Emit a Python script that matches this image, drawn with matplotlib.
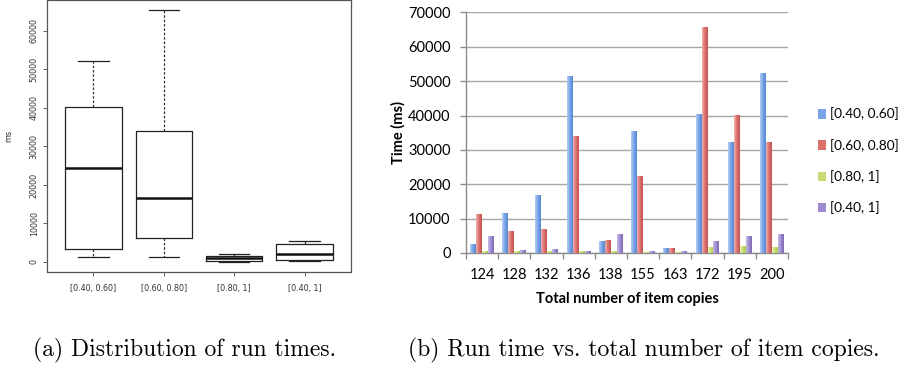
import numpy as np
import matplotlib
matplotlib.use('Agg')
import matplotlib.pyplot as plt
from matplotlib.colors import LinearSegmentedColormap

# data
groups = ['[0.40, 0.60]', '[0.60, 0.80]', '[0.80, 1]', '[0.40, 1]']
copies = ['124', '128', '132', '136', '138', '155', '163', '172', '195', '200']

t_040_060 = [2500, 11500, 16700, 51500, 3300, 35300, 1200, 40200, 32300, 52100]
t_060_080 = [11200, 6400, 6700, 34000, 3500, 22300, 1400, 65600, 40000, 32200]
t_080_1 = [300, 300, 500, 300, 300, 200, 200, 1500, 2000, 1700]
t_040_1 = [4900, 700, 900, 400, 5400, 400, 300, 3400, 4900, 5400]

# box stats: low whisker, q1, median, q3, high whisker
box_lo = [1200, 1400, 50, 260]
box_q1 = [3300, 6300, 300, 520]
box_med = [24400, 16700, 950, 2160]
box_q3 = [40200, 34000, 1550, 4750]
box_hi = [52100, 65500, 2000, 5450]

series = [t_040_060, t_060_080, t_080_1, t_040_1]
base_cols = ['#78a3e6', '#d9726d', '#c6dc72', '#9e8bd0']
light_cols = ['#b4cff6', '#f1b0ac', '#e6f2b2', '#cbc0ec']
dark_cols = ['#5686d4', '#c4524e', '#aac64f', '#7f6bb8']

fig = plt.figure(figsize=(9.1, 3.69), dpi=100)

#%% (a) box plot, R style
ax1 = fig.add_axes([47/910, 1-271.5/369, 304/910, 271.5/369])
stats = []
for i in range(4):
    stats.append(dict(whislo=box_lo[i], q1=box_q1[i], med=box_med[i],
                      q3=box_q3[i], whishi=box_hi[i], fliers=[]))
ax1.bxp(stats, positions=[1, 2, 3, 4], widths=0.8, capwidths=0.43,
        boxprops=dict(color='#222222', lw=0.9),
        medianprops=dict(color='#111111', lw=1.8),
        whiskerprops=dict(color='#333333', lw=0.9, ls=(0, (2, 1.5))),
        capprops=dict(color='#222222', lw=0.9))
ax1.set_xlim(0.34, 4.66)
ax1.set_ylim(-2470, 68050)
ax1.set_yticks(np.arange(0, 60001, 10000))
ax1.set_yticklabels([str(v) for v in range(0, 60001, 10000)], rotation=90,
                    va='center', fontsize=5.8, color='#333333')
ax1.set_xticks([1, 2, 3, 4])
ax1.set_xticklabels(groups, fontsize=5.8, color='#333333')
ax1.tick_params(axis='both', direction='out', length=3, width=0.6, color='#444444')
ax1.tick_params(axis='x', pad=6)
ax1.tick_params(axis='y', pad=3)
ax1.set_ylabel('ms', fontsize=5.8, color='#333333', labelpad=12)
for s in ax1.spines.values():
    s.set_color('#555555')
    s.set_linewidth(0.9)

#%% (b) grouped bars with gradient
ax2 = fig.add_axes([466/910, 1-253/369, 322/910, 240.5/369])
x = np.arange(len(copies))
w = 0.185
offs = [-1.5, -0.5, 0.5, 1.5]
grad = np.linspace(0, 1, 64).reshape(1, -1)
for k, vals in enumerate(series):
    cmap = LinearSegmentedColormap.from_list('g%d' % k, [light_cols[k], base_cols[k], dark_cols[k]])
    bars = ax2.bar(x + offs[k]*w, vals, w, color=base_cols[k], label=groups[k], zorder=2)
    for b in bars:
        x0 = b.get_x()
        h = b.get_height()
        ax2.imshow(grad, extent=[x0, x0 + w, 0, h], aspect='auto', cmap=cmap, zorder=3)
ax2.set_xlim(-0.5, 9.5)
ax2.set_ylim(0, 70000)
ax2.set_yticks(np.arange(0, 70001, 10000))
ax2.yaxis.grid(True, color='#a6a6a6', lw=1.0, zorder=0)
ax2.set_axisbelow(True)
ax2.set_xticks(np.arange(-0.5, 10, 1))
ax2.set_xticklabels([])
ax2.set_xticks(x, minor=True)
ax2.set_xticklabels(copies, minor=True, fontsize=10.5, family='Lato')
ax2.tick_params(axis='x', which='minor', length=0, pad=11)
ax2.tick_params(axis='x', which='major', direction='out', length=4, color='#8c8c8c', width=1)
ax2.tick_params(axis='y', direction='out', length=4, color='#8c8c8c', width=1, labelsize=10.5, pad=7)
for lab in ax2.get_yticklabels():
    lab.set_family('Lato')
for sp in ['top', 'right']:
    ax2.spines[sp].set_visible(False)
for sp in ['left', 'bottom']:
    ax2.spines[sp].set_color('#8c8c8c')
    ax2.spines[sp].set_linewidth(1.0)
ax2.set_ylabel('Time (ms)', fontsize=10.5, fontweight='bold', family='Lato', labelpad=2)
ax2.set_xlabel('Total number of item copies', fontsize=10.5, fontweight='bold', family='Lato', labelpad=7)

handles, labels = ax2.get_legend_handles_labels()
fig.legend(handles, labels, loc='center left', bbox_to_anchor=(806/910, 1-161/369),
           frameon=False, handlelength=0.6, handleheight=0.7, handletextpad=0.25,
           labelspacing=1.35, prop=dict(family='Lato', size=9.8))

#%% captions
fig.text(33/910, 1-350/369, '(a) Distribution of run times.', family='cmr10', fontsize=17, va='center')
fig.text(408/910, 1-350/369, '(b) Run time vs. total number of item copies.', family='cmr10',
         fontsize=17, va='center')

fig.savefig('out.png', dpi=100)
